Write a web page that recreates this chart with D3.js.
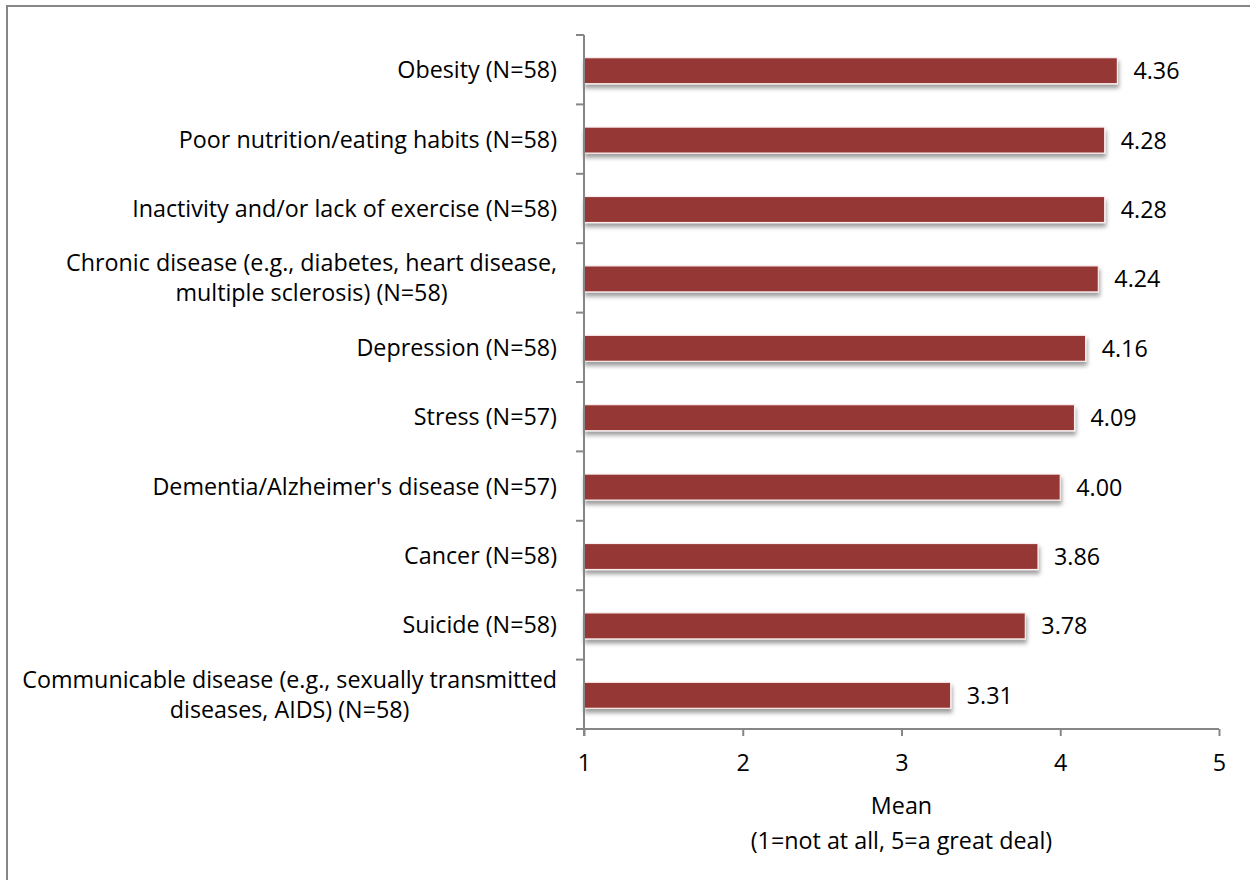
<!DOCTYPE html>
<html>
<head>
<meta charset="utf-8">
<script src="https://cdn.jsdelivr.net/npm/d3@7"></script>
<style>
  html, body { margin: 0; padding: 0; background: #fff; }
  svg { display: block; }
  text { font-family: "Open Sans", "Noto Sans", sans-serif; fill: #000; }
</style>
</head>
<body>
<svg id="chart" width="1250" height="880"></svg>
<script>
const categories = [
  ["Obesity (N=58)"],
  ["Poor nutrition/eating habits (N=58)"],
  ["Inactivity and/or lack of exercise (N=58)"],
  ["Chronic disease (e.g., diabetes, heart disease,", "multiple sclerosis) (N=58)"],
  ["Depression (N=58)"],
  ["Stress (N=57)"],
  ["Dementia/Alzheimer's disease (N=57)"],
  ["Cancer (N=58)"],
  ["Suicide (N=58)"],
  ["Communicable disease (e.g., sexually transmitted", "diseases, AIDS) (N=58)"]
];
const values = [4.36, 4.28, 4.28, 4.24, 4.16, 4.09, 4.00, 3.86, 3.78, 3.31];
const xTicks = [1, 2, 3, 4, 5];
const axisTitle = ["Mean", "(1=not at all, 5=a great deal)"];

(function () {
const svg = d3.select("#chart");
const axisColor = "#868686";
const barColor = "#953735";
const fontSize = 23.3;

// outer border
svg.append("rect")
  .attr("x", 7).attr("y", 6)
  .attr("width", 1260).attr("height", 900)
  .attr("fill", "#fff").attr("stroke", axisColor).attr("stroke-width", 2);

const defs = svg.append("defs");
const f = defs.append("filter").attr("id", "shadow")
  .attr("x", "-5%").attr("y", "-30%").attr("width", "110%").attr("height", "190%");
f.append("feDropShadow").attr("dx", 1).attr("dy", 4).attr("stdDeviation", 2.2)
  .attr("flood-color", "#000").attr("flood-opacity", 0.38);

const pLeft = 584, pRight = 1219, pTop = 35, pBottom = 729;
const ids = categories.map((c, i) => i);

const x = d3.scaleLinear().domain([1, 5]).range([pLeft, pRight]);
const y = d3.scaleBand().domain(ids).range([pTop, pBottom])
  .paddingInner(0.625).paddingOuter(0.3125);

// bars
svg.append("g").selectAll("rect")
  .data(values)
  .join("rect")
  .attr("x", x(1))
  .attr("y", (d, i) => y(i) + 1)
  .attr("width", d => x(d) - x(1))
  .attr("height", y.bandwidth())
  .attr("fill", barColor)
  .attr("stroke", "#fbeeee")
  .attr("stroke-width", 1.2)
  .attr("filter", "url(#shadow)");

// value labels
svg.append("g").selectAll("text")
  .data(values)
  .join("text")
  .attr("x", d => x(d) + 16)
  .attr("y", (d, i) => y(i) + 1 + y.bandwidth() / 2 + 8.5)
  .attr("font-size", fontSize)
  .text(d => d.toFixed(2));

// y axis line + ticks at band boundaries
const step = y.step();
const yAxisG = svg.append("g");
yAxisG.append("line")
  .attr("x1", pLeft).attr("x2", pLeft)
  .attr("y1", pTop).attr("y2", pBottom + 7)
  .attr("stroke", axisColor).attr("stroke-width", 2);
yAxisG.selectAll("line.tick")
  .data(d3.range(categories.length + 1))
  .join("line").attr("class", "tick")
  .attr("x1", pLeft - 8).attr("x2", pLeft)
  .attr("y1", i => pTop + i * step).attr("y2", i => pTop + i * step)
  .attr("stroke", axisColor).attr("stroke-width", 2);

// category labels (multi-line blocks: lines centred, block right-aligned)
const labelRight = 557;
const catG = svg.append("g");
categories.forEach((lines, i) => {
  const cy = y(i) + 1 + y.bandwidth() / 2;
  const n = lines.length;
  const lh = 30;
  const t = catG.append("text")
    .attr("font-size", fontSize);
  const spans = lines.map((ln, j) => t.append("tspan")
      .attr("y", cy + 7.5 + (j - (n - 1) / 2) * lh)
      .text(ln));
  if (n === 1) {
    t.attr("text-anchor", "end");
    spans[0].attr("x", labelRight);
  } else {
    const maxW = d3.max(spans, s => s.node().getComputedTextLength());
    t.attr("text-anchor", "middle");
    spans.forEach(s => s.attr("x", labelRight - maxW / 2));
  }
});

// x axis
const xAxis = d3.axisBottom(x).tickValues(xTicks).tickFormat(d3.format("d"))
  .tickSize(7).tickPadding(8);
const xg = svg.append("g").attr("transform", `translate(0,${pBottom})`).call(xAxis);
xg.select(".domain").attr("stroke", axisColor).attr("stroke-width", 2)
  .attr("d", `M${pLeft},0H${pRight}`);
xg.selectAll(".tick line").attr("stroke", axisColor).attr("stroke-width", 2);
xg.selectAll(".tick text")
  .attr("font-size", fontSize)
  .attr("font-family", "'Open Sans', sans-serif")
  .attr("fill", "#000")
  .attr("dy", null)
  .attr("y", 42);

// axis title
const tt = svg.append("text").attr("text-anchor", "middle").attr("font-size", fontSize);
axisTitle.forEach((ln, j) => {
  tt.append("tspan").attr("x", (pLeft + pRight) / 2).attr("y", 814 + j * 35).text(ln);
});
})();
</script>
</body>
</html>
